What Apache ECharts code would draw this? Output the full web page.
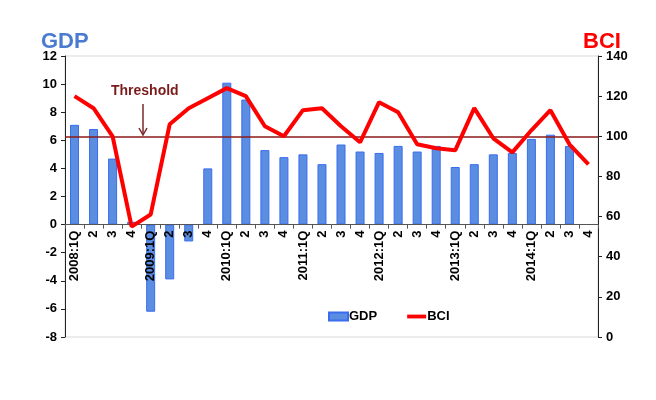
<!DOCTYPE html>
<html>
<head>
<meta charset="utf-8">
<script src="https://cdn.jsdelivr.net/npm/echarts@6/dist/echarts.min.js"></script>
<style>
html,body{margin:0;padding:0;background:#fff;}
#chart{width:656px;height:400px;}
</style>
</head>
<body>
<div id="chart"></div>
<script>
var quarters = ['2008:1Q','2','3','4','2009:1Q','2','3','4','2010:1Q','2','3','4',
	'2011:1Q','2','3','4','2012:1Q','2','3','4','2013:1Q','2','3','4','2014:1Q','2','3','4'];
var gdp = [7.1,6.8,4.7,0.2,-6.2,-3.9,-1.2,4.0,10.1,8.9,5.3,4.8,
	5.0,4.3,5.7,5.2,5.1,5.6,5.2,5.6,4.1,4.3,5.0,5.1,6.1,6.4,5.6,null];
var bci = [120,114,100,55,61,106,114,119,124,120,105,100,
	113,114,105,97,117,112,96,94,93,114,99,92,103,113,96,86];
var gdp_ticks = [-8,-6,-4,-2,0,2,4,6,8,10,12];
var bci_ticks = [0,20,40,60,80,100,120,140];
var threshold = 100;

var font = 'Liberation Sans, Arial, sans-serif';
var grid_top = 56, grid_bottom = 63, chart_h = 400;
var gdp_min = gdp_ticks[0], gdp_max = gdp_ticks[gdp_ticks.length-1];
// move the category axis (line and labels) up to GDP = 0
var zero_offset = (chart_h - grid_top - grid_bottom) * (0 - gdp_min) / (gdp_max - gdp_min);

var my_chart = echarts.init(document.getElementById('chart'));
my_chart.setOption({
	animation:false,
	grid:{left:65,right:58,top:grid_top,bottom:grid_bottom,show:true,borderColor:'#d9d9d9',borderWidth:1},
	title:[
		{text:'GDP',left:36,top:26,textStyle:{color:'#4a7bd0',fontSize:22,fontWeight:'bold',fontFamily:font}},
		{text:'BCI',left:578,top:26,textStyle:{color:'#ff0000',fontSize:22,fontWeight:'bold',fontFamily:font}}
	],
	legend:{
		left:323,top:305,itemGap:30,itemWidth:19,itemHeight:8,
		textStyle:{color:'#000',fontSize:13,fontWeight:'bold',fontFamily:font,padding:[0,0,0,-4]},
		data:[
			{name:'GDP',icon:'rect'},
			{name:'BCI',icon:'path://M0,0H20V4H0Z'}
		]
	},
	xAxis:{
		type:'category',
		data:quarters,
		offset:-zero_offset,
		z:10,
		axisLine:{onZero:false,lineStyle:{color:'#555',width:1}},
		axisTick:{show:true,length:4,lineStyle:{color:'#555'}},
		axisLabel:{rotate:90,interval:0,color:'#000',fontSize:13,fontWeight:'bold',fontFamily:font,margin:6}
	},
	yAxis:[
		{
			type:'value',min:gdp_min,max:gdp_max,interval:2,
			axisLine:{show:true,lineStyle:{color:'#222'}},
			axisTick:{show:true,length:4,lineStyle:{color:'#222'}},
			splitLine:{show:false},
			axisLabel:{color:'#000',fontSize:13,fontWeight:'bold',fontFamily:font,margin:8}
		},
		{
			type:'value',min:bci_ticks[0],max:bci_ticks[bci_ticks.length-1],interval:20,
			axisLine:{show:true,lineStyle:{color:'#222'}},
			axisTick:{show:true,length:4,lineStyle:{color:'#222'}},
			splitLine:{show:false},
			axisLabel:{color:'#000',fontSize:13,fontWeight:'bold',fontFamily:font,margin:8}
		}
	],
	series:[
		{
			name:'GDP',
			type:'bar',
			data:gdp,
			barWidth:9,
			itemStyle:{color:'#5b8ee0',borderColor:'#3a6cf0',borderWidth:1}
		},
		{
			name:'BCI',
			type:'line',
			yAxisIndex:1,
			data:bci,
			symbol:'none',
			z:12,
			lineStyle:{color:'#ff0000',width:4},
			itemStyle:{color:'#ff0000'},
			markLine:{
				silent:true,
				symbol:'none',
				label:{show:false},
				lineStyle:{color:'#8b1a1a',width:1.5,type:'solid'},
				data:[{yAxis:threshold}]
			}
		}
	],
	graphic:[
		{type:'text',left:111,top:84,style:{text:'Threshold',fill:'#7b1a1a',font:'bold 14px '+font}},
		{type:'line',shape:{x1:143,y1:104,x2:143,y2:134},style:{stroke:'#7b2a2a',lineWidth:1.5}},
		{type:'polyline',shape:{points:[[139,128],[143,135],[147,128]]},style:{stroke:'#7b2a2a',lineWidth:1.5,fill:null}}
	]
});
</script>
</body>
</html>
